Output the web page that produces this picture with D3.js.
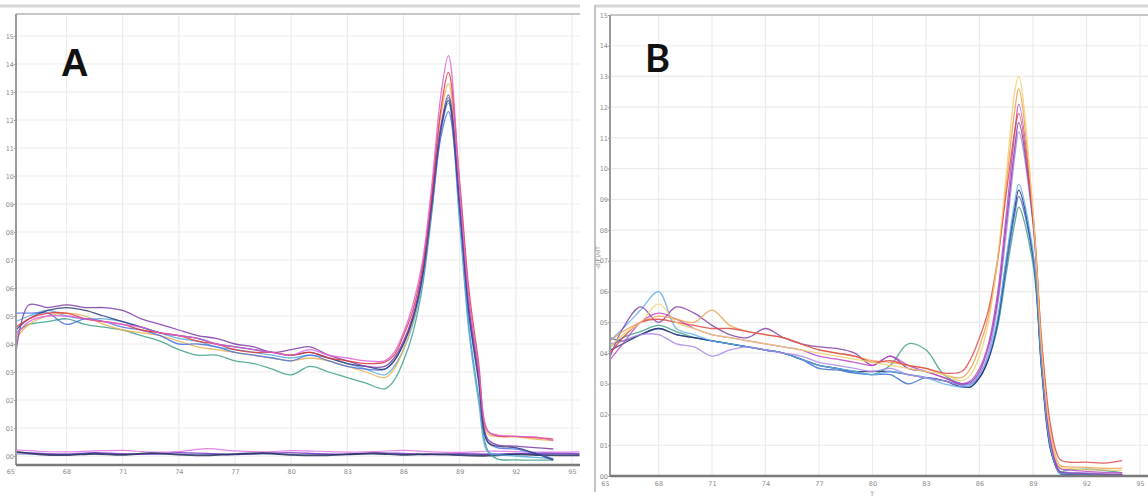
<!DOCTYPE html>
<html><head><meta charset="utf-8">
<script src="https://cdn.jsdelivr.net/npm/d3@7"></script>
<style>body{margin:0;background:#fff}svg{display:block}</style>
</head><body>
<svg id="c" width="1148" height="500"></svg>
<script>
// ---------- DATA ----------
const yTickValues = [0,1,2,3,4,5,6,7,8,9,10,11,12,13,14,15];
const yTickLabels = ["00","01","02","03","04","05","06","07","08","09","10","11","12","13","14","15"];
const xTickValues = [65,68,71,74,77,80,83,86,89,92,95];
const xTickLabels = ["65","68","71","74","77","80","83","86","89","92","95"];

const tempsA = [65.3,66,67,68,69,70,71,72,73,74,75,76,77,78,79,80,81,82,83,84,85,85.5,86,86.5,87,87.5,88,88.4,89,89.5,90,90.5,91,92,93,94];
const seriesANames = ["pink","red","purple","green","blue","orange","lightblue","navy"];
const aPink   = [4.3,4.8,5.0,5.0,4.9,4.8,4.7,4.6,4.4,4.3,4.2,4.0,3.9,3.8,3.7,3.6,3.8,3.6,3.5,3.4,3.4,3.7,4.4,5.4,6.9,9.6,12.9,14.3,9.6,5.6,3.2,0.9,0.75,0.7,0.68,0.55];
const aRed    = [4.6,4.9,5.1,5.1,4.9,4.8,4.7,4.5,4.4,4.3,4.1,4.0,3.8,3.7,3.7,3.6,3.7,3.5,3.4,3.3,3.35,3.6,4.3,5.2,6.7,9.3,12.4,13.7,9.8,5.9,3.4,0.9,0.72,0.7,0.66,0.6];
const aPurple = [3.7,5.4,5.3,5.4,5.3,5.3,5.2,4.9,4.7,4.5,4.3,4.2,4.0,3.9,3.7,3.8,3.9,3.6,3.4,3.2,3.2,3.5,4.1,5.0,6.5,9.0,11.8,12.9,9.0,5.3,3.0,0.6,0.4,0.35,0.3,0.25];
const aGreen  = [4.4,4.7,4.8,4.9,4.7,4.6,4.5,4.3,4.1,3.8,3.6,3.6,3.4,3.3,3.1,2.9,3.2,3.0,2.8,2.6,2.4,2.7,3.4,4.4,6.0,8.6,11.6,12.8,8.6,4.6,2.2,0.2,-0.1,-0.14,-0.15,-0.15];
const aBlue   = [5.1,5.1,5.1,4.7,4.9,4.8,4.6,4.5,4.3,4.0,4.0,3.9,3.7,3.6,3.5,3.4,3.6,3.4,3.2,3.1,3.1,3.4,4.0,4.9,6.3,8.8,11.4,12.3,8.9,5.0,2.7,0.5,0.3,0.25,0.1,-0.1];
const aOrange = [4.2,4.7,5.0,5.1,5.0,4.7,4.5,4.4,4.3,4.1,3.9,3.8,3.7,3.6,3.5,3.4,3.5,3.4,3.2,3.0,2.8,3.1,3.8,4.8,6.4,9.1,12.2,13.3,9.4,5.5,3.1,0.8,0.7,0.68,0.6,0.55];
const aLightBlue = [4.8,5.0,5.2,5.0,4.9,4.9,4.8,4.6,4.4,4.2,4.1,3.9,3.8,3.7,3.6,3.5,3.6,3.5,3.3,3.1,2.9,3.2,3.8,4.7,6.2,8.8,11.6,12.6,8.3,4.4,2.0,0.15,0.05,0.0,-0.05,-0.1];
const aNavy   = [4.5,4.9,5.2,5.3,5.2,5.0,4.8,4.6,4.4,4.3,4.2,4.0,3.9,3.8,3.7,3.6,3.7,3.5,3.3,3.2,3.1,3.4,4.0,4.9,6.4,9.0,11.7,12.7,8.9,5.1,2.8,0.5,0.35,0.3,0.1,-0.15];

const ntcTempsA = [65.3,66.5,68,69.5,71,72.5,74,75.5,77,78.5,80,81.5,83,84.5,86,87.5,89,90.5,92,93.5,95.4];
const ntcNavy   = [0.15,0.06,0.03,0.08,0.04,0.10,0.05,0.02,0.07,0.10,0.04,0.02,0.06,0.09,0.04,0.07,0.03,0.01,0.06,0.03,0.02];
const ntcPurple = [0.12,0.10,0.06,0.12,0.08,0.07,0.12,0.09,0.05,0.10,0.12,0.08,0.06,0.11,0.09,0.05,0.08,0.06,0.09,0.10,0.08];
const ntcPink   = [0.22,0.17,0.15,0.18,0.20,0.14,0.16,0.26,0.18,0.15,0.19,0.17,0.14,0.16,0.20,0.15,0.13,0.17,0.16,0.14,0.15];
const ntcFlat   = [0.07,0.07,0.07,0.07,0.07,0.07,0.07,0.07,0.07,0.07,0.07,0.07,0.07,0.07,0.07,0.07,0.07,0.07,0.07,0.07,0.07];

const tempsB = [65.3,66,67,68,69,70,71,72,73,74,75,76,77,78,79,80,81,82,83,84,85,85.5,86,86.5,87,87.5,88,88.2,89,89.5,90,90.5,91,92,93,94];
const bYellow = [4.2,4.6,5.0,5.6,5.0,4.8,4.6,4.5,4.4,4.3,4.2,4.1,4.0,3.9,3.8,3.7,3.6,3.5,3.4,3.3,3.1,3.3,3.9,5.0,7.0,9.8,12.6,13.0,8.6,4.0,1.3,0.3,0.25,0.2,0.2,0.18];
const bRed    = [4.0,4.5,5.0,5.1,5.0,4.9,4.8,4.8,4.7,4.6,4.5,4.3,4.1,4.0,3.9,3.7,3.75,3.6,3.5,3.35,3.4,3.8,4.5,5.4,7.0,9.2,11.3,11.8,8.4,4.3,1.6,0.55,0.45,0.45,0.42,0.5];
const bMagenta= [3.8,4.3,5.0,5.3,5.1,4.8,4.6,4.5,4.4,4.3,4.2,4.1,3.9,3.8,3.7,3.6,3.9,3.6,3.4,3.2,3.0,3.1,3.5,4.3,5.9,8.5,11.3,12.1,8.5,4.0,1.2,0.25,0.2,0.15,0.12,0.1];
const bPurple = [3.9,4.8,5.5,5.0,5.5,5.3,4.9,4.6,4.5,4.8,4.5,4.3,4.2,4.15,4.0,3.6,3.9,3.5,3.4,3.2,3.0,3.05,3.4,4.2,5.7,8.2,10.8,11.5,8.3,3.9,1.1,0.15,0.1,0.08,0.05,0.05];
const bLavender = [4.3,4.4,4.6,4.6,4.3,4.2,3.9,4.1,4.2,4.1,4.0,3.9,3.7,3.6,3.5,3.4,3.5,3.3,3.2,3.1,2.95,3.0,3.3,4.0,5.5,7.9,10.5,11.2,8.2,3.8,1.0,0.15,0.12,0.1,0.08,0.05];
const bLightBlue = [4.4,4.8,5.4,6.0,4.8,4.6,4.4,4.3,4.2,4.1,4.0,3.8,3.6,3.5,3.4,3.3,3.4,3.3,3.2,3.0,2.9,2.95,3.3,3.9,5.1,7.1,9.0,9.5,7.3,3.5,0.9,0.1,0.08,0.06,0.05,0.05];
const bBlue   = [4.5,4.4,4.6,4.8,4.6,4.5,4.4,4.3,4.2,4.1,4.0,3.8,3.5,3.45,3.35,3.3,3.3,3.0,3.2,3.1,2.95,2.9,3.2,3.8,4.9,6.8,8.6,9.1,7.1,3.4,0.85,0.08,0.05,0.05,0.04,0.03];
const bGreen  = [4.2,4.5,4.7,4.9,4.7,4.5,4.4,4.3,4.2,4.1,4.0,3.8,3.6,3.5,3.4,3.3,3.6,4.3,4.1,3.3,3.0,3.0,3.2,3.8,4.8,6.6,8.3,8.75,6.9,3.3,0.8,0.15,0.2,0.22,0.18,0.1];
const bNavy   = [4.1,4.3,4.6,4.8,4.6,4.5,4.4,4.3,4.2,4.1,4.0,3.8,3.6,3.5,3.4,3.4,3.4,3.3,3.2,3.1,2.9,2.9,3.2,3.8,5.0,7.0,8.8,9.3,7.2,3.4,0.85,0.1,0.06,0.05,0.04,0.03];
const bOrange = [4.4,4.7,5.0,5.2,5.1,5.0,5.4,4.9,4.7,4.6,4.5,4.3,4.1,4.0,3.9,3.75,3.7,3.6,3.5,3.3,3.2,3.5,4.2,5.2,6.9,9.5,12.0,12.6,8.6,4.2,1.4,0.35,0.3,0.28,0.25,0.25];

const panelLabels = ["A","B"];

// ---------- DRAW ----------
const svg = d3.select("#c");
const gridCol = "#ebebeb";

function panel(cfg){
  const g = svg.append("g");
  const x = d3.scaleLinear().domain([65,95]).range(cfg.xr);
  const y = d3.scaleLinear().domain([0,15]).range(cfg.yr);
  const L = cfg.left, R = cfg.right, T = cfg.top, B = cfg.bottom;
  const clipId = "clip" + cfg.name;
  svg.append("clipPath").attr("id", clipId).append("rect")
    .attr("x", L+1).attr("y", T).attr("width", R-L-1).attr("height", B-T);

  // top band
  g.append("line").attr("x1", cfg.bandX0).attr("x2", cfg.bandX1).attr("y1", 6).attr("y2", 6)
    .attr("stroke", "#d6d6d6").attr("stroke-width", 3);

  // gridlines
  g.append("g").selectAll("line").data(yTickValues.filter(v => y(v) > T+1 && y(v) < B-1)).join("line")
    .attr("x1", L).attr("x2", R).attr("y1", d => y(d)).attr("y2", d => y(d))
    .attr("stroke", gridCol).attr("stroke-width", 1.2);
  g.append("g").selectAll("line").data(xTickValues.filter(v => x(v) > L+2 && x(v) <= R)).join("line")
    .attr("x1", d => x(d)).attr("x2", d => x(d)).attr("y1", T).attr("y2", B)
    .attr("stroke", gridCol).attr("stroke-width", 1.2);

  // frame
  g.append("line").attr("x1", L).attr("x2", R).attr("y1", T).attr("y2", T)
    .attr("stroke", "#b4b4b4").attr("stroke-width", 1.5);

  // axes with d3 axis (labels), domain hidden
  const yAxis = d3.axisLeft(y).tickValues(yTickValues).tickFormat((d,i) => yTickLabels[i]).tickSize(2);
  const ya = g.append("g").attr("transform", `translate(${L},0)`).call(yAxis);
  ya.select(".domain").remove();
  ya.selectAll("line").attr("stroke", "#999");
  ya.selectAll("text").attr("font-family", "DejaVu Sans, sans-serif").attr("font-size", 6.5).attr("fill", "#8a8a8a").attr("x", -2);

  const xAxis = d3.axisBottom(x).tickValues(xTickValues).tickFormat((d,i) => xTickLabels[i]).tickSize(0);
  const xa = g.append("g").attr("transform", `translate(0,${B})`).call(xAxis);
  xa.select(".domain").remove();
  xa.selectAll("text").attr("font-family", "DejaVu Sans, sans-serif").attr("font-size", 6.5).attr("fill", "#8a8a8a").attr("dy", cfg.xLabelDy);

  // series lines
  const line = d3.line().x(d => x(d[0])).y(d => y(d[1])).curve(d3.curveCatmullRom.alpha(0.5));
  const lg = g.append("g").attr("clip-path", `url(#${clipId})`);
  cfg.series.forEach(s => {
    lg.append("path").datum(s.t.map((t,i) => [t, s.v[i]]))
      .attr("d", line).attr("fill", "none").attr("stroke", s.c)
      .attr("stroke-width", s.w || 1.3).attr("stroke-opacity", s.o || 0.85);
  });

  // axis lines
  g.append("line").attr("x1", L).attr("x2", L).attr("y1", T).attr("y2", B)
    .attr("stroke", "#9a9a9a").attr("stroke-width", 2);
  g.append("line").attr("x1", L).attr("x2", R).attr("y1", B).attr("y2", B)
    .attr("stroke", "#7a7a7a").attr("stroke-width", 2.5);

  // panel letter
  g.append("text").attr("x", cfg.labelX).attr("y", cfg.labelY).text(cfg.label)
    .attr("font-family", cfg.labelFont).attr("font-weight", "bold").attr("font-size", 38).attr("fill", "#111");
  return {g, x, y};
}

panel({
  name: "A", label: panelLabels[0], labelX: 61, labelY: 76, labelFont: "Liberation Sans, Arial, sans-serif",
  left: 16, right: 580, top: 14, bottom: 465,
  xr: [10.3, 572], yr: [456, 36], bandX0: 0, bandX1: 580, xLabelDy: "0.9em",
  series: [
    {t: ntcTempsA, v: ntcFlat, c: "#8da0c8", w: 1.2},
    {t: ntcTempsA, v: ntcPink, c: "#e070e0", w: 1.2},
    {t: ntcTempsA, v: ntcPurple, c: "#7a3ad0", w: 1.4},
    {t: ntcTempsA, v: ntcNavy, c: "#24305e", w: 1.8},
    {t: tempsA, v: aGreen, c: "#3ca08a"},
    {t: tempsA, v: aLightBlue, c: "#50a8e0"},
    {t: tempsA, v: aOrange, c: "#e8b050"},
    {t: tempsA, v: aBlue, c: "#4a70e0"},
    {t: tempsA, v: aNavy, c: "#2a3878"},
    {t: tempsA, v: aPurple, c: "#7a3aa8"},
    {t: tempsA, v: aRed, c: "#e03838"},
    {t: tempsA, v: aPink, c: "#e060d8"}
  ]
});

const pB = panel({
  name: "B", label: panelLabels[1], labelX: 645, labelY: 72, labelFont: "Lato, Liberation Sans, sans-serif",
  left: 610, right: 1148, top: 15, bottom: 476,
  xr: [605, 1140], yr: [476, 15], bandX0: 595, bandX1: 1148, xLabelDy: "1.1em",
  series: [
    {t: tempsB, v: bGreen, c: "#40a088"},
    {t: tempsB, v: bBlue, c: "#3868d0"},
    {t: tempsB, v: bNavy, c: "#283070"},
    {t: tempsB, v: bLightBlue, c: "#60b0f0"},
    {t: tempsB, v: bLavender, c: "#a888e8"},
    {t: tempsB, v: bPurple, c: "#8040a8"},
    {t: tempsB, v: bMagenta, c: "#c048c8"},
    {t: tempsB, v: bOrange, c: "#f0a050"},
    {t: tempsB, v: bRed, c: "#e04848"},
    {t: tempsB, v: bYellow, c: "#f0d070"}
  ]
});

// B outer left border and small axis titles
svg.append("line").attr("x1", 595).attr("x2", 595).attr("y1", 5).attr("y2", 492)
  .attr("stroke", "#c4c4c4").attr("stroke-width", 2);
svg.append("text").attr("transform", "translate(600,258) rotate(-90)").attr("text-anchor", "middle")
  .attr("font-family", "DejaVu Sans, sans-serif").attr("font-size", 6).attr("fill", "#888").text("-d(F)/dT");
svg.append("text").attr("x", 872).attr("y", 496).attr("text-anchor", "middle")
  .attr("font-family", "DejaVu Sans, sans-serif").attr("font-size", 6).attr("fill", "#888").text("T");
</script>
</body></html>
